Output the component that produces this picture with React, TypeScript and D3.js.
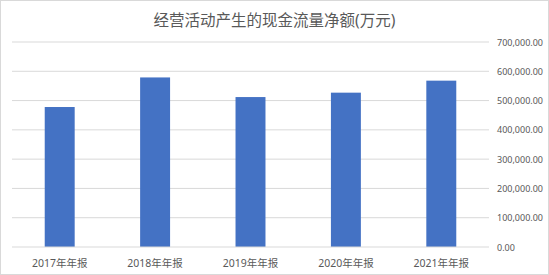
import React from "react";
import * as d3 from "d3";

const title = "经营活动产生的现金流量净额(万元)";
const categories = ["2017年年报", "2018年年报", "2019年年报", "2020年年报", "2021年年报"];
const values = [478000, 579000, 512000, 527000, 568000];
const yTicks = [0, 100000, 200000, 300000, 400000, 500000, 600000, 700000];

const W = 549;
const H = 275;
const left = 12;
const right = 489;
const top = 42;
const bottom = 247;

export default function App() {
  const x = d3.scaleBand<string>().domain(categories).range([left, right]).paddingInner(0.686).paddingOuter(0.343);
  const y = d3.scaleLinear().domain([0, 700000]).range([bottom, top]);
  const fmt = (v: number) => d3.format(",.2f")(v);
  const font = "'Noto Sans', 'Noto Sans CJK SC', sans-serif";
  return (
    <svg width={W} height={H} style={{ position: "absolute", left: 0, top: 0, background: "#fff" }}>
      <rect x={0.5} y={0.5} width={W - 1} height={H - 1} fill="#fff" stroke="#d9d9d9" />
      <text x={W / 2} y={26} textAnchor="middle" fontSize={15.5} fill="#595959" fontFamily={font}>
        {title}
      </text>
      {yTicks.map((t) => (
        <g key={t}>
          {t > 0 && <line x1={left} x2={right} y1={y(t)} y2={y(t)} stroke="#d9d9d9" strokeWidth={1} />}
          <text x={497} y={y(t) + 3.5} fontSize={9} fill="#595959" fontFamily={font}>
            {fmt(t)}
          </text>
        </g>
      ))}
      {categories.map((c, i) => (
        <rect key={c} x={x(c)} y={y(values[i])} width={x.bandwidth()} height={y(0) - y(values[i])} fill="#4472C4" />
      ))}
      <line x1={left} x2={right} y1={y(0)} y2={y(0)} stroke="#d9d9d9" strokeWidth={1} />
      {categories.map((c) => (
        <text key={c} x={(x(c) as number) + x.bandwidth() / 2} y={267} textAnchor="middle" fontSize={10.5} fill="#595959" fontFamily={font}>
          {c}
        </text>
      ))}
    </svg>
  );
}
